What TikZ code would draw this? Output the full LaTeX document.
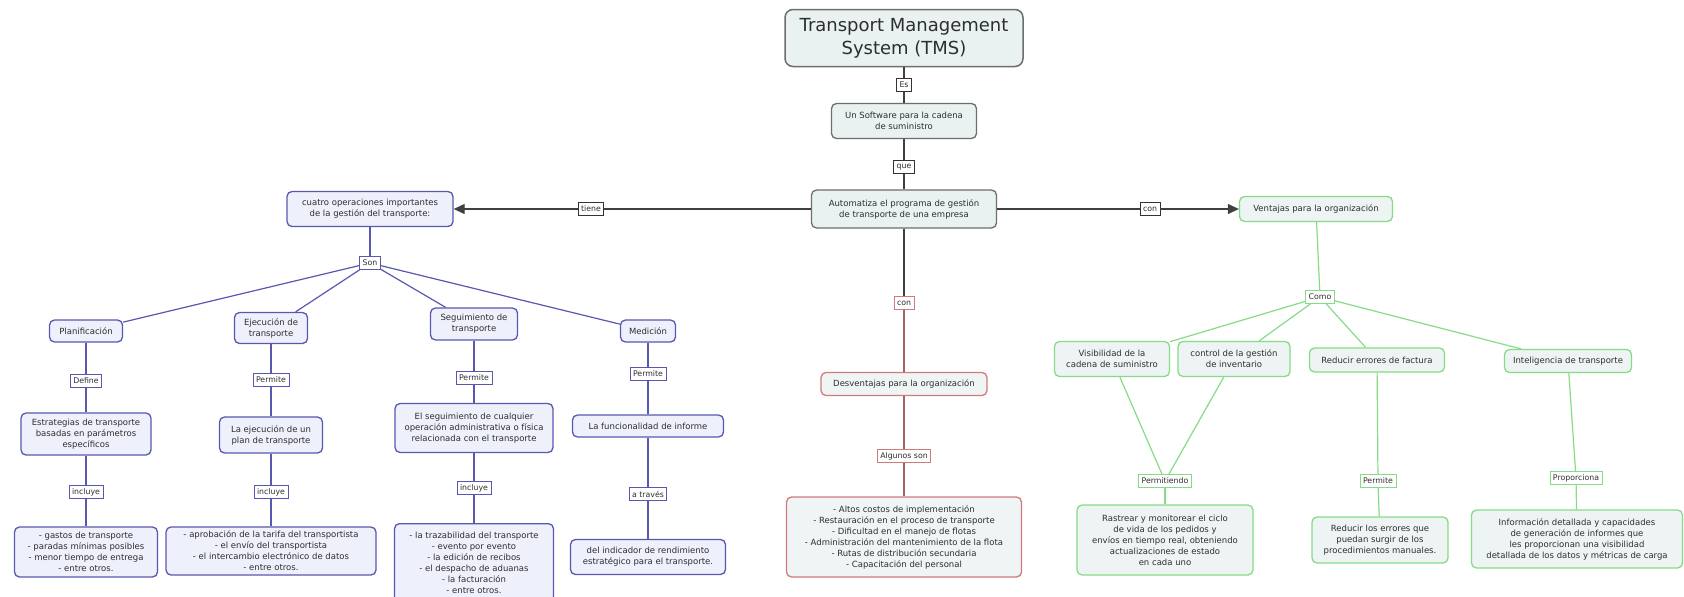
\documentclass[tikz,border=0pt]{standalone}
\usepackage{fontspec}
\setmainfont{DejaVu Sans}
\usetikzlibrary{arrows.meta}
\definecolor{bluebd}{HTML}{5858B0}
\definecolor{bluefill}{HTML}{EEF0FB}
\definecolor{greenbd}{HTML}{86DC86}
\definecolor{greenfill}{HTML}{EEF4F4}
\definecolor{redbd}{HTML}{D07A7A}
\definecolor{redfill}{HTML}{EFF4F4}
\definecolor{titlebd}{HTML}{6E6E6E}
\definecolor{titlefill}{HTML}{E9F1F1}
\definecolor{inktxt}{HTML}{2E2E2E}
\begin{document}
\begin{tikzpicture}[x=1pt,y=-1pt,
  txt/.style={font=\fontsize{8.5}{11}\selectfont, text=inktxt, align=center},
  concept/.style={txt, rounded corners=5pt, line width=1.3pt, inner sep=2pt},
  bluec/.style={concept, draw=bluebd, fill=bluefill},
  greenc/.style={concept, draw=greenbd, fill=greenfill},
  redc/.style={concept, draw=redbd, fill=redfill},
  greyc/.style={concept, draw=titlebd, fill=titlefill},
  lab/.style={font=\fontsize{7.8}{9}\selectfont, text=inktxt, fill=white, line width=0.8pt,
              inner xsep=3pt, inner ysep=2pt, minimum height=12.5pt},
  blab/.style={lab, draw=bluebd},
  glab/.style={lab, draw=greenbd},
  rlab/.style={lab, draw=redbd},
  klab/.style={lab, draw=black!80},
  bline/.style={draw=bluebd, line width=1.2pt},
  gline/.style={draw=greenbd, line width=1.2pt},
  rline/.style={draw=redbd!80!black, line width=1.2pt},
  kline/.style={draw=black!75, line width=1.2pt},
  tip/.style={-{Triangle[length=11pt,width=10pt]}},
]
\useasboundingbox[fill=white] (0,0) rectangle (1684,597);

% --- central spine
\node[greyc, font=\fontsize{18}{23}\selectfont, rounded corners=8pt, line width=1.5pt,
      minimum width=238pt, minimum height=57pt] (title) at (904,38)
      {Transport Management\\System (TMS)};
\node[klab] (es) at (904,85) {Es};
\node[greyc, minimum width=145pt, minimum height=35pt] (soft) at (904,121)
      {Un Software para la cadena\\de suministro};
\node[klab] (que) at (904,167) {que};
\node[greyc, minimum width=185pt, minimum height=38pt] (auto) at (904,209)
      {Automatiza el programa de gestión\\de transporte de una empresa};

% --- left branch
\node[klab] (tiene) at (591,209) {tiene};
\node[bluec, minimum width=166pt, minimum height=35pt] (cuatro) at (370,209)
      {cuatro operaciones importantes\\de la gestión del transporte:};
\node[blab] (son) at (370,263) {Son};

\node[bluec, minimum width=73pt, minimum height=22pt] (plan) at (86,331) {Planificación};
\node[bluec, minimum width=73pt, minimum height=31pt] (ejec) at (271,328) {Ejecución de\\transporte};
\node[bluec, minimum width=87pt, minimum height=32pt] (segu) at (474,324) {Seguimiento de\\transporte};
\node[bluec, minimum width=55pt, minimum height=22pt] (medi) at (648,331) {Medición};

\node[blab] (define) at (86,381) {Define};
\node[bluec, minimum width=130pt, minimum height=42pt] (estr) at (86,434)
      {Estrategias de transporte\\basadas en parámetros\\específicos};
\node[blab] (incA) at (86,492) {incluye};
\node[bluec, minimum width=143pt, minimum height=50pt] (gastos) at (86,552)
      {- gastos de transporte\\- paradas mínimas posibles\\- menor tiempo de entrega\\- entre otros.};

\node[blab] (permA) at (271,380) {Permite};
\node[bluec, minimum width=103pt, minimum height=36pt] (ejplan) at (271,435)
      {La ejecución de un\\plan de transporte};
\node[blab] (incB) at (271,492) {incluye};
\node[bluec, minimum width=210pt, minimum height=48pt] (aprob) at (271,551)
      {- aprobación de la tarifa del transportista\\- el envío del transportista\\- el intercambio electrónico de datos\\- entre otros.};

\node[blab] (permB) at (474,378) {Permite};
\node[bluec, minimum width=158pt, minimum height=49pt] (elseg) at (474,428)
      {El seguimiento de cualquier\\operación administrativa o física\\relacionada con el transporte};
\node[blab] (incC) at (474,488) {incluye};
\node[bluec, minimum width=159pt, minimum height=78pt, anchor=north] (traz) at (474,523)
      {- la trazabilidad del transporte\\- evento por evento\\- la edición de recibos\\- el despacho de aduanas\\- la facturación\\- entre otros.};

\node[blab] (permC) at (648,374) {Permite};
\node[bluec, minimum width=151pt, minimum height=22pt] (funcion) at (648,426)
      {La funcionalidad de informe};
\node[blab] (atraves) at (648,494) {a través};
\node[bluec, minimum width=155pt, minimum height=35pt] (indic) at (648,557)
      {del indicador de rendimiento\\estratégico para el transporte.};

% --- centre branch
\node[rlab] (conR) at (904,303) {con};
\node[redc, minimum width=166pt, minimum height=23pt] (desv) at (904,384)
      {Desventajas para la organización};
\node[rlab] (algunos) at (904,456) {Algunos son};
\node[redc, minimum width=235pt, minimum height=80pt] (desvlist) at (904,537)
      {- Altos costos de implementación\\- Restauración en el proceso de transporte\\- Dificultad en el manejo de flotas\\- Administración del mantenimiento de la flota\\- Rutas de distribución secundaria\\- Capacitación del personal};

% --- right branch
\node[klab] (conV) at (1150,209) {con};
\node[greenc, minimum width=153pt, minimum height=25pt] (vent) at (1316,209)
      {Ventajas para la organización};
\node[glab] (como) at (1320,297) {Como};

\node[greenc, minimum width=115pt, minimum height=35pt] (visib) at (1112,359)
      {Visibilidad de la\\cadena de suministro};
\node[greenc, minimum width=112pt, minimum height=35pt] (control) at (1234,359)
      {control de la gestión\\de inventario};
\node[greenc, minimum width=135pt, minimum height=24pt] (reducir) at (1377,360)
      {Reducir errores de factura};
\node[greenc, minimum width=127pt, minimum height=23pt] (intel) at (1568,361)
      {Inteligencia de transporte};

\node[glab] (permitiendo) at (1165,481) {Permitiendo};
\node[greenc, minimum width=176pt, minimum height=70pt] (rastrear) at (1165,540)
      {Rastrear y monitorear el ciclo\\de vida de los pedidos y\\envíos en tiempo real, obteniendo\\actualizaciones de estado\\en cada uno};
\node[glab] (permD) at (1378,481) {Permite};
\node[greenc, minimum width=136pt, minimum height=46pt] (redlos) at (1380,540)
      {Reducir los errores que\\puedan surgir de los\\procedimientos manuales.};
\node[glab] (proporciona) at (1576,478) {Proporciona};
\node[greenc, minimum width=211pt, minimum height=58pt] (info) at (1577,539)
      {Información detallada y capacidades\\de generación de informes que\\les proporcionan una visibilidad\\detallada de los datos y métricas de carga};

% --- connectors
\draw[kline] (title) -- (es);
\draw[kline] (es) -- (soft);
\draw[kline] (soft) -- (que);
\draw[kline] (que) -- (auto);
\draw[kline] (auto) -- (tiene);
\draw[kline, tip] (tiene) -- (cuatro);
\draw[kline] (auto) -- (conV);
\draw[kline, tip] (conV) -- (vent);
\draw[kline] (auto) -- (conR);

\draw[bline] (cuatro) -- (son);
\foreach \t in {plan,ejec,segu,medi} \draw[bline] (son) -- (\t);
\draw[bline] (plan) -- (define);
\draw[bline] (define) -- (estr);
\draw[bline] (estr) -- (incA);
\draw[bline] (incA) -- (gastos);
\draw[bline] (ejec) -- (permA);
\draw[bline] (permA) -- (ejplan);
\draw[bline] (ejplan) -- (incB);
\draw[bline] (incB) -- (aprob);
\draw[bline] (segu) -- (permB);
\draw[bline] (permB) -- (elseg);
\draw[bline] (elseg) -- (incC);
\draw[bline] (incC) -- (traz);
\draw[bline] (medi) -- (permC);
\draw[bline] (permC) -- (funcion);
\draw[bline] (funcion) -- (atraves);
\draw[bline] (atraves) -- (indic);

\draw[rline] (conR) -- (desv);
\draw[rline] (desv) -- (algunos);
\draw[rline] (algunos) -- (desvlist);

\draw[gline] (vent) -- (como);
\foreach \t in {visib,control,reducir,intel} \draw[gline] (como) -- (\t);
\draw[gline] (visib) -- (permitiendo);
\draw[gline] (control) -- (permitiendo);
\draw[gline] (permitiendo) -- (rastrear);
\draw[gline] (reducir) -- (permD);
\draw[gline] (permD) -- (redlos);
\draw[gline] (intel) -- (proporciona);
\draw[gline] (proporciona) -- (info);
\end{tikzpicture}
\end{document}
